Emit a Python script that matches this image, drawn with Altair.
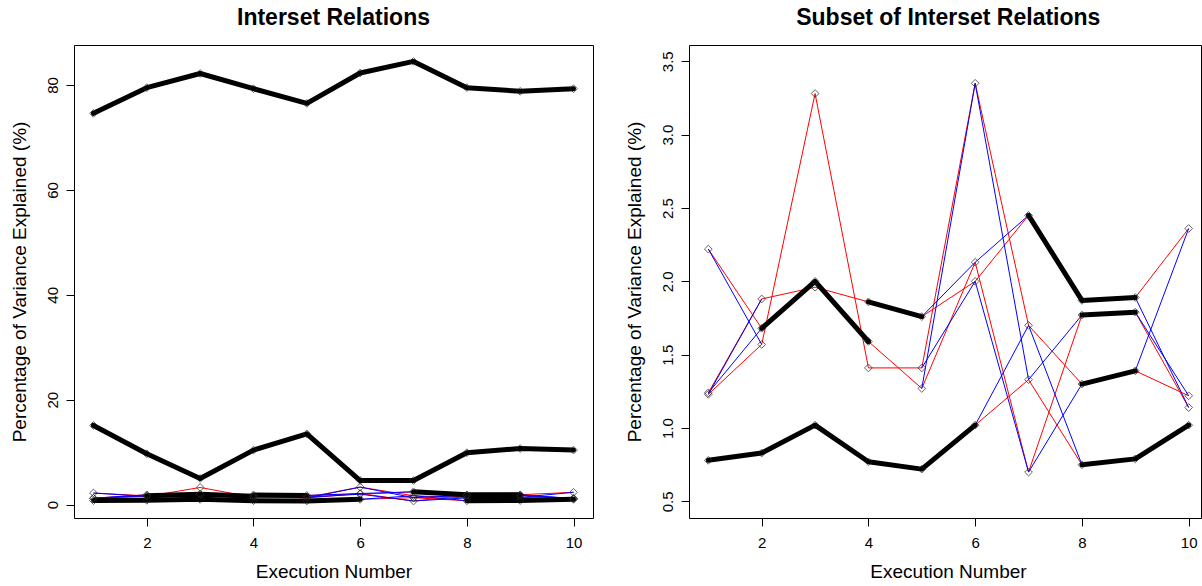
import altair as alt
import pandas as pd

# ---------------- data ----------------
X = [1, 2, 3, 4, 5, 6, 7, 8, 9, 10]

# largest and second component (left panel)
TOP = [74.6, 79.5, 82.2, 79.3, 76.5, 82.3, 84.5, 79.5, 78.8, 79.3]
MID = [15.1, 9.7, 5.0, 10.4, 13.5, 4.6, 4.6, 9.9, 10.7, 10.4]

# small components
C1 = [2.22, 1.88, 3.28, 1.86, 1.76, 3.35, 2.45, 1.87, 1.89, 2.36]
C2 = [1.24, 1.68, 2.00, 1.59, 1.41, 2.13, 1.70, 1.77, 1.79, 1.22]
C3 = [1.23, 1.57, 1.96, 1.41, 1.27, 2.00, 1.33, 1.30, 1.39, 1.14]
C4 = [0.78, 0.83, 1.02, 0.77, 0.72, 1.02, 0.70, 0.75, 0.79, 1.02]

N = None
# thick black tracks (None = no segment)
BLACK = [
    TOP,
    MID,
    [0.78, 0.83, 1.02, 0.77, 0.72, 1.02, N, 0.75, 0.79, 1.02],
    [N, 1.68, 2.00, 1.59, N, N, N, N, N, N],
    [N, N, N, 1.86, 1.76, N, N, N, N, N],
    [N, N, N, N, N, N, 2.45, 1.87, 1.89, N],
    [N, N, N, N, N, N, N, 1.77, 1.79, N],
    [N, N, N, N, N, N, N, 1.30, 1.39, N],
]
# thin red tracks
RED = [
    [2.22, 1.68, N, N, N, N, N, N, N, N],
    [1.24, 1.88, 1.96, 1.86, N, N, N, N, N, N],
    [1.23, 1.57, 3.28, 1.41, 1.41, 3.35, 1.70, 1.30, N, N],
    [N, N, N, 1.59, 1.27, 2.13, 0.70, 1.77, N, N],
    [N, N, N, N, 1.76, 2.00, 2.45, N, N, N],
    [N, N, N, N, N, 1.02, 1.33, 0.75, N, N],
    [N, N, N, N, N, N, N, N, 1.89, 2.36],
    [N, N, N, N, N, N, N, N, 1.79, 1.14],
    [N, N, N, N, N, N, N, N, 1.39, 1.22],
]
# thin blue tracks
BLUE = [
    [2.22, 1.57, N, N, N, N, N, N, N, N],
    [1.23, 1.88, N, N, N, N, N, N, N, N],
    [1.24, 1.68, N, N, N, N, N, N, N, N],
    [N, N, N, N, 1.27, 3.35, 1.33, 1.77, N, N],
    [N, N, N, N, 1.41, 2.00, 0.70, 1.30, N, N],
    [N, N, N, N, 1.76, 2.13, 2.45, N, N, N],
    [N, N, N, N, N, 1.02, 1.70, 0.75, N, N],
    [N, N, N, N, N, N, N, N, 1.39, 2.36],
    [N, N, N, N, N, N, N, N, 1.89, 1.14],
    [N, N, N, N, N, N, N, N, 1.79, 1.22],
]

# ---------------- tables ----------------
rows = []
for group, tracks in (("red", RED), ("blue", BLUE), ("black", BLACK)):
    for ti, vals in enumerate(tracks):
        run = 0
        for i, v in enumerate(vals):
            if v is None:
                run += 1
                continue
            rows.append({"group": group, "track": f"{group}{ti}_{run}", "x": X[i], "y": v})
lines_df = pd.DataFrame(rows)

pts = []
for series in (TOP, MID, C1, C2, C3, C4):
    for i, v in enumerate(series):
        pts.append({"x": X[i], "y": v})
points_df = pd.DataFrame(pts).drop_duplicates()

FONT = "Liberation Sans"


def panel(title, xdom, ydom, yvals, yfmt, w, h, dx, xtitle_shift):
    xaxis = alt.Axis(values=[2, 4, 6, 8, 10], grid=False, domain=False,
                     ticks=True, tickSize=8, tickColor="black", tickWidth=1,
                     labelFont=FONT, labelFontSize=15, labelColor="black",
                     labelBaseline="alphabetic", labelPadding=21, labelAlign="center",
                     title="Execution Number", titleFont=FONT, titleFontSize=19,
                     titleFontWeight="normal", titleColor="black",
                     titleX=w / 2 + xtitle_shift, titleY=59,
                     titleBaseline="alphabetic", titleAlign="center")
    yaxis = alt.Axis(values=yvals, format=yfmt, grid=False, domain=False,
                     ticks=True, tickSize=8, tickColor="black", tickWidth=1,
                     labelFont=FONT, labelFontSize=15, labelColor="black",
                     labelAngle=270, labelAlign="center", labelBaseline="alphabetic",
                     labelPadding=8.7,
                     title="Percentage of Variance Explained (%)", titleFont=FONT,
                     titleFontSize=19, titleFontWeight="normal", titleColor="black",
                     titleAngle=270, titleX=-48.3, titleY=h / 2,
                     titleBaseline="alphabetic", titleAlign="center")
    xs = alt.Scale(domain=xdom, nice=False, zero=False)
    ys = alt.Scale(domain=ydom, nice=False, zero=False)
    xe = alt.X("x:Q", scale=xs, axis=xaxis)
    ye = alt.Y("y:Q", scale=ys, axis=yaxis)

    base = alt.Chart(lines_df)
    red = base.transform_filter(alt.datum.group == "red").mark_line(
        color="#FF0000", strokeWidth=1, clip=True).encode(x=xe, y=ye, detail="track:N")
    blue = base.transform_filter(alt.datum.group == "blue").mark_line(
        color="#0000FF", strokeWidth=1, clip=True).encode(x=xe, y=ye, detail="track:N")
    black = base.transform_filter(alt.datum.group == "black").mark_line(
        color="#000000", strokeWidth=5, strokeJoin="round", strokeCap="round",
        clip=True).encode(x=xe, y=ye, detail="track:N")
    points = alt.Chart(points_df).mark_point(
        shape="diamond", filled=False, size=60, color="#222222", strokeWidth=1,
        clip=True).encode(x=xe, y=ye)

    return alt.layer(red, blue, black, points).properties(
        width=w, height=h,
        title=alt.TitleParams(text=title, font=FONT, fontSize=23, fontWeight="bold",
                              color="black", anchor="middle", frame="group",
                              offset=-2.6, baseline="alphabetic", dx=dx),
        view=alt.ViewBackground(stroke="black", strokeWidth=1),
    )


left = panel("Interset Relations", [0.635, 10.365], [-2.54, 87.63],
             [0, 20, 40, 60, 80], "d", 519, 473, 0, 0)
right = panel("Subset of Interset Relations", [0.638, 10.231], [0.387, 3.611],
              [0.5, 1.0, 1.5, 2.0, 2.5, 3.0, 3.5], ".1f", 512, 473, 3.3, 3)

chart = alt.hconcat(left, right, spacing=96, bounds="flush").properties(
    padding={"left": 10, "top": 6, "right": 0, "bottom": 0},
    background="white",
)

chart.save("out.html", embed_options={"renderer": "svg", "actions": False})
